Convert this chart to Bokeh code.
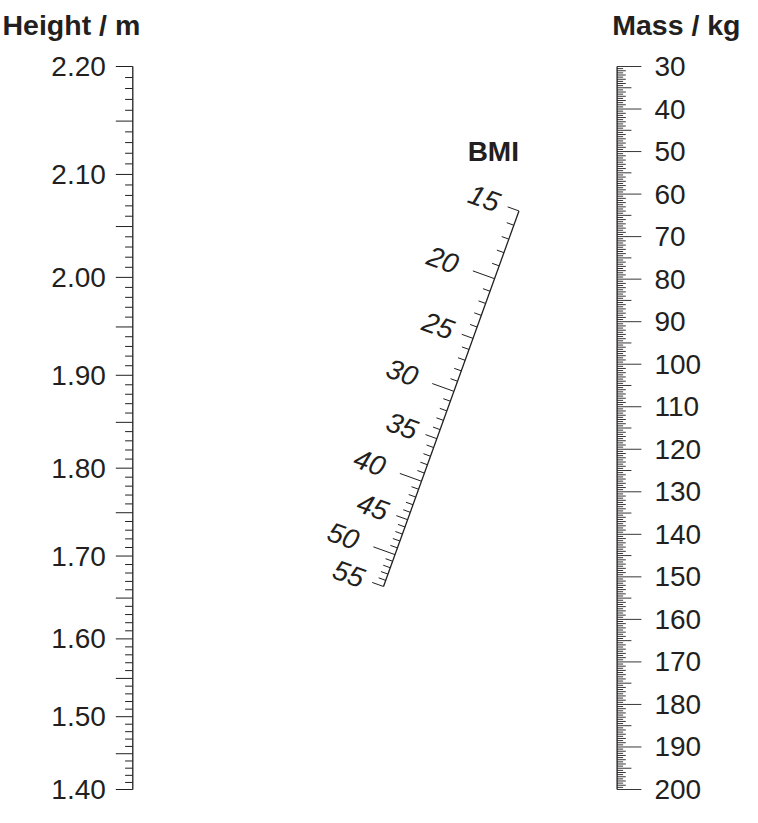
import math
import numpy as np
from bokeh.plotting import figure
from bokeh.models import Range1d
from bokeh.core.properties import value
from bokeh.embed import file_html
from bokeh.resources import INLINE

# ---------------- data ----------------
HEIGHT_MIN, HEIGHT_MAX = 1.40, 2.20
HEIGHT_LABELS = [1.40, 1.50, 1.60, 1.70, 1.80, 1.90, 2.00, 2.10, 2.20]
HEIGHT_MAJOR_STEP = 0.05
HEIGHT_MINOR_STEP = 0.01

MASS_MIN, MASS_MAX = 30, 200
MASS_LABELS = [30, 40, 50, 60, 70, 80, 90, 100, 110, 120, 130, 140,
               150, 160, 170, 180, 190, 200]
MASS_FINE_STEP = 0.5

BMI_LABELS = [15, 20, 25, 30, 35, 40, 45, 50, 55]
BMI_MINOR_STEP = 1

TITLE_HEIGHT = "Height / m"
TITLE_MASS = "Mass / kg"
TITLE_BMI = "BMI"

# ---------------- layout ----------------
W, H = 742, 807
XH_S, XM_S = 132.3, 616.6      # canvas x of height / mass axes
YT_S, YB_S = 66.0, 789.0       # canvas y of top / bottom of the scales
PXX = XM_S - XH_S
PXY = YB_S - YT_S
INK = "#231F20"
FONT = value("Liberation Sans")


def yh(h):
    h = np.asarray(h, dtype=float)
    return (h ** 2 - HEIGHT_MIN ** 2) / (HEIGHT_MAX ** 2 - HEIGHT_MIN ** 2)


def ym(m):
    m = np.asarray(m, dtype=float)
    return (MASS_MAX - m) / (MASS_MAX - MASS_MIN)


def bmi_pos(b):
    b = np.asarray(b, dtype=float)
    dm = MASS_MAX - MASS_MIN
    dh = HEIGHT_MAX ** 2 - HEIGHT_MIN ** 2
    t = dm / (dm + b * dh)
    y = (1 - t) * (-HEIGHT_MIN ** 2 / dh) + t * (MASS_MAX / dm)
    return t, y


p = figure(width=W, height=H, output_backend="svg", toolbar_location=None,
           x_range=Range1d((0 - XH_S) / PXX, (W - XH_S) / PXX),
           y_range=Range1d((YB_S - H) / PXY, (YB_S - 0) / PXY),
           min_border=0)
p.axis.visible = False
p.grid.visible = False
p.outline_line_color = None
p.background_fill_color = "white"

# ---------- height scale ----------
hvals = np.round(np.arange(HEIGHT_MIN, HEIGHT_MAX + 1e-9, HEIGHT_MINOR_STEP), 2)
hlen = np.array([17.0 if round(v * 100) % round(HEIGHT_MAJOR_STEP * 100) == 0 else 7.7
                 for v in hvals])
hy = yh(hvals)
p.segment(x0=np.zeros_like(hy), y0=hy, x1=-hlen / PXX, y1=hy,
          line_color=INK, line_width=1)
p.segment(x0=[0], y0=[yh(HEIGHT_MIN)], x1=[0], y1=[yh(HEIGHT_MAX)],
          line_color=INK, line_width=1.3)
p.text(x=[-27 / PXX] * len(HEIGHT_LABELS), y=yh(HEIGHT_LABELS),
       text=[f"{v:.2f}" for v in HEIGHT_LABELS],
       text_align="right", text_baseline="middle",
       text_font=FONT, text_font_size="28px", text_color=INK)

# ---------- mass scale ----------
mvals = np.arange(MASS_MIN, MASS_MAX + 1e-9, MASS_FINE_STEP)
mlen = []
for v in mvals:
    if v % 10 == 0:
        mlen.append(24.3)
    elif v % 5 == 0:
        mlen.append(14.3)
    elif v % 1 == 0:
        mlen.append(8.7)
    else:
        mlen.append(6.0)
mlen = np.array(mlen)
my = ym(mvals)
p.segment(x0=np.ones_like(my), y0=my, x1=1 + mlen / PXX, y1=my,
          line_color=INK, line_width=0.9)
p.segment(x0=[1], y0=[ym(MASS_MIN)], x1=[1], y1=[ym(MASS_MAX)],
          line_color=INK, line_width=1.3)
p.text(x=[1 + 37.3 / PXX] * len(MASS_LABELS), y=ym(MASS_LABELS),
       text=[str(v) for v in MASS_LABELS],
       text_align="left", text_baseline="middle",
       text_font=FONT, text_font_size="28px", text_color=INK)

# ---------- BMI scale ----------
bvals = np.arange(BMI_LABELS[0], BMI_LABELS[-1] + 1e-9, BMI_MINOR_STEP)
bx, by = bmi_pos(bvals)
x_top, y_top = bmi_pos(BMI_LABELS[0])
x_bot, y_bot = bmi_pos(BMI_LABELS[-1])
ux, uy = (x_top - x_bot) * PXX, (y_top - y_bot) * PXY
nrm = math.hypot(ux, uy)
ux, uy = ux / nrm, uy / nrm
nx, ny = -uy, ux          # perpendicular, pointing left/up
blen = np.array([23.0 if v % 10 == 0 else (12.0 if v % 5 == 0 else 7.5) for v in bvals])
p.segment(x0=bx, y0=by, x1=bx + nx * blen / PXX, y1=by + ny * blen / PXY,
          line_color=INK, line_width=1)
p.segment(x0=[x_top], y0=[y_top], x1=[x_bot], y1=[y_bot],
          line_color=INK, line_width=1.3)
lx, ly = bmi_pos(BMI_LABELS)
dist = np.array([55.0 if v % 10 == 0 else 37.0 for v in BMI_LABELS])
angle = math.atan2(-ny, -nx)
p.text(x=lx + nx * dist / PXX, y=ly + ny * dist / PXY,
       text=[str(v) for v in BMI_LABELS], angle=angle,
       text_align="center", text_baseline="middle",
       text_font=FONT, text_font_size="28px", text_font_style="italic",
       text_color=INK)

# ---------- titles ----------
p.text(x=[x_top], y=[y_top + 59 / PXY], text=[TITLE_BMI],
       text_align="right", text_baseline="alphabetic",
       text_font=FONT, text_font_size="28px", text_font_style="bold",
       text_color=INK)
p.text(x=[(2 - XH_S) / PXX], y=[(YB_S - 24) / PXY], text=[TITLE_HEIGHT],
       text_align="left", text_baseline="alphabetic",
       text_font=FONT, text_font_size="28.5px", text_font_style="bold",
       text_color=INK)
p.text(x=[(740 - XH_S) / PXX], y=[(YB_S - 24) / PXY], text=[TITLE_MASS],
       text_align="right", text_baseline="alphabetic",
       text_font=FONT, text_font_size="28.5px", text_font_style="bold",
       text_color=INK)

open("out.html", "w").write(file_html(p, INLINE))
